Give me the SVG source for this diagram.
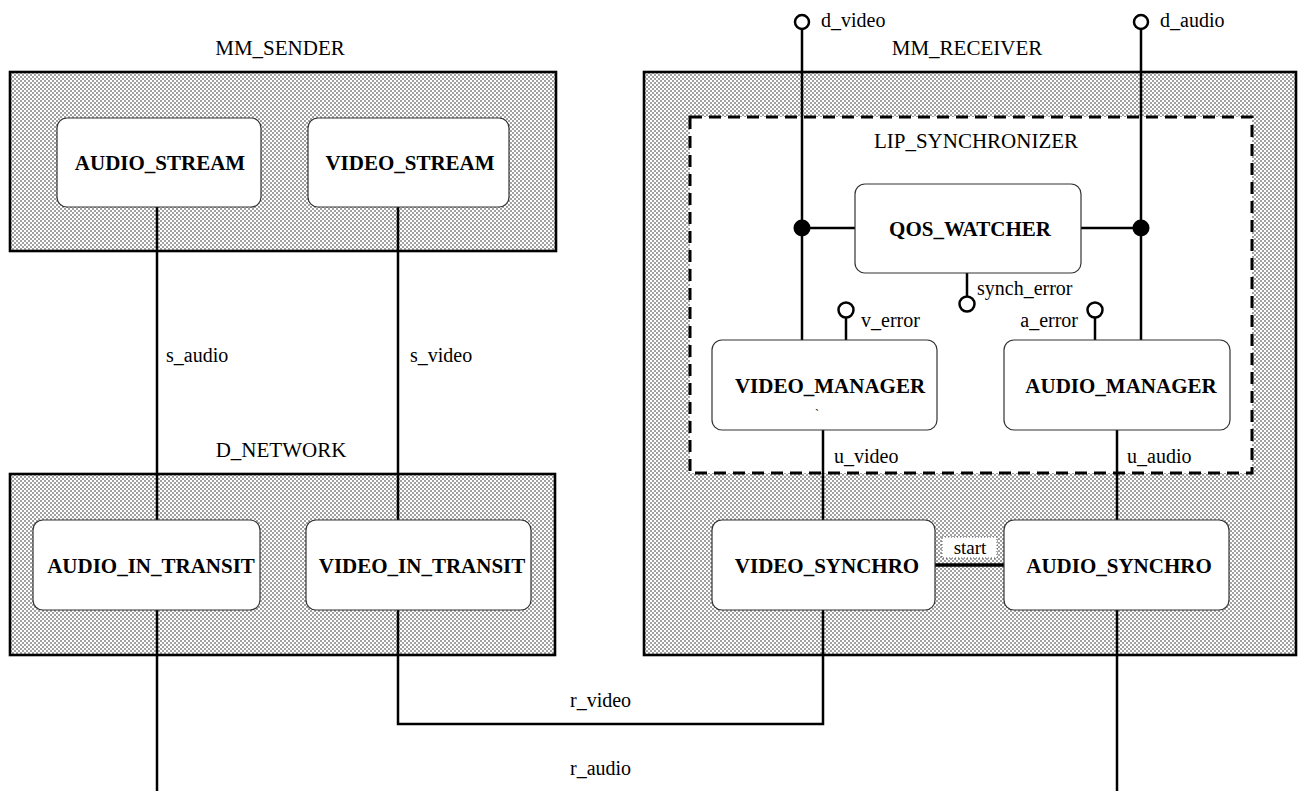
<svg xmlns="http://www.w3.org/2000/svg" width="1300" height="791" viewBox="0 0 1300 791">
  <defs>
    <!-- stippled halftone fill used by the container blocks -->
    <pattern id="stipple" width="4" height="4" patternUnits="userSpaceOnUse">
      <rect width="4" height="4" fill="#ffffff"/>
      <circle cx="1" cy="1" r="0.8" fill="#2a2a2a"/>
      <circle cx="3" cy="3" r="0.8" fill="#2a2a2a"/>
    </pattern>
  </defs>
  <style>
    .container { fill: url(#stipple); stroke: #000; stroke-width: 2.6; }
    .group { fill: #fff; stroke: #000; stroke-width: 3; stroke-dasharray: 12 7; }
    .proc { fill: #fff; stroke: #333; stroke-width: 1.2; }
    .wire { fill: none; stroke: #000; stroke-width: 2.5; }
    .port { fill: #fff; stroke: #000; stroke-width: 2.5; }
    .joint { fill: #000; }
    .title { font-family: "Liberation Serif", "Times New Roman", serif; font-size: 21px; fill: #000; text-anchor: middle; }
    .name { font-family: "Liberation Serif", "Times New Roman", serif; font-size: 21px; font-weight: bold; fill: #000; text-anchor: middle; }
    .lbl { font-family: "Liberation Serif", "Times New Roman", serif; font-size: 20px; fill: #000; }
  </style>

  <!-- container blocks -->
  <g id="mm_sender">
    <rect class="container" x="10" y="72" width="546" height="179"/>
    <text class="title" x="280" y="55">MM_SENDER</text>
  </g>
  <g id="d_network">
    <rect class="container" x="10" y="474" width="545" height="181"/>
    <text class="title" x="281" y="457">D_NETWORK</text>
  </g>
  <g id="mm_receiver">
    <rect class="container" x="644" y="72" width="652" height="583"/>
    <text class="title" x="967" y="55">MM_RECEIVER</text>
  </g>
  <g id="lip_synchronizer">
    <rect class="group" x="690" y="117" width="562" height="356"/>
    <text class="title" x="976" y="148">LIP_SYNCHRONIZER</text>
  </g>

  <!-- connectors -->
  <g id="connectors">
    <path class="wire" d="M157 207 V520"/>
    <path class="wire" d="M157 610 V791"/>
    <path class="wire" d="M398 207 V520"/>
    <path class="wire" d="M398 610 V724 H823 V610"/>
    <path class="wire" d="M802 29 V340"/>
    <path class="wire" d="M1141 29 V340"/>
    <path class="wire" d="M802 228 H855"/>
    <path class="wire" d="M1081 228 H1141"/>
    <path class="wire" d="M967 273 V297"/>
    <path class="wire" d="M846 318 V340"/>
    <path class="wire" d="M1095 318 V340"/>
    <path class="wire" d="M823 430 V520"/>
    <path class="wire" d="M1117 430 V520"/>
    <path class="wire" d="M935 565 H1004" style="stroke-width:3.5"/>
    <path class="wire" d="M1117 610 V791"/>

    <circle class="joint" cx="802" cy="228" r="8.5"/>
    <circle class="joint" cx="1141" cy="228" r="8.5"/>

    <circle class="port" cx="802" cy="22" r="7"/>
    <circle class="port" cx="1141" cy="22" r="7"/>
    <circle class="port" cx="967" cy="304" r="7.5"/>
    <circle class="port" cx="846" cy="310" r="7.5"/>
    <circle class="port" cx="1095" cy="310" r="7.5"/>

    <text class="lbl" x="166" y="362">s_audio</text>
    <text class="lbl" x="410" y="362">s_video</text>
    <text class="lbl" x="570" y="707">r_video</text>
    <text class="lbl" x="570" y="775">r_audio</text>
    <text class="lbl" x="821" y="27">d_video</text>
    <text class="lbl" x="1160" y="27">d_audio</text>
    <text class="lbl" x="977" y="295">synch_error</text>
    <text class="lbl" x="861" y="327">v_error</text>
    <text class="lbl" x="1078" y="327" text-anchor="end">a_error</text>
    <text class="lbl" x="834" y="463">u_video</text>
    <text class="lbl" x="1127" y="463">u_audio</text>

    <rect x="942" y="537" width="55" height="21" fill="#fff" stroke="#555" stroke-width="1" stroke-dasharray="1 2"/>
    <text class="lbl" x="970" y="554" text-anchor="middle" style="font-size:19px">start</text>
  </g>

  <!-- processes -->
  <g id="audio_stream">
    <rect class="proc" x="57" y="118" width="204" height="89" rx="10"/>
    <text class="name" x="160" y="170">AUDIO_STREAM</text>
  </g>
  <g id="video_stream">
    <rect class="proc" x="308" y="118" width="201" height="89" rx="10"/>
    <text class="name" x="410" y="170">VIDEO_STREAM</text>
  </g>
  <g id="audio_in_transit">
    <rect class="proc" x="33" y="520" width="227" height="90" rx="10"/>
    <text class="name" x="151" y="573">AUDIO_IN_TRANSIT</text>
  </g>
  <g id="video_in_transit">
    <rect class="proc" x="306" y="520" width="225" height="90" rx="10"/>
    <text class="name" x="422" y="573">VIDEO_IN_TRANSIT</text>
  </g>
  <g id="qos_watcher">
    <rect class="proc" x="855" y="184" width="226" height="89" rx="10"/>
    <text class="name" x="970" y="236">QOS_WATCHER</text>
  </g>
  <g id="video_manager">
    <rect class="proc" x="712" y="340" width="225" height="90" rx="10"/>
    <text class="name" x="830" y="393">VIDEO_MANAGER</text>
    <text class="lbl" x="815" y="418" style="font-size:12px">`</text>
  </g>
  <g id="audio_manager">
    <rect class="proc" x="1004" y="340" width="226" height="90" rx="10"/>
    <text class="name" x="1121" y="393">AUDIO_MANAGER</text>
  </g>
  <g id="video_synchro">
    <rect class="proc" x="712" y="520" width="223" height="90" rx="10"/>
    <text class="name" x="827" y="573">VIDEO_SYNCHRO</text>
  </g>
  <g id="audio_synchro">
    <rect class="proc" x="1004" y="520" width="225" height="90" rx="10"/>
    <text class="name" x="1119" y="573">AUDIO_SYNCHRO</text>
  </g>
</svg>
